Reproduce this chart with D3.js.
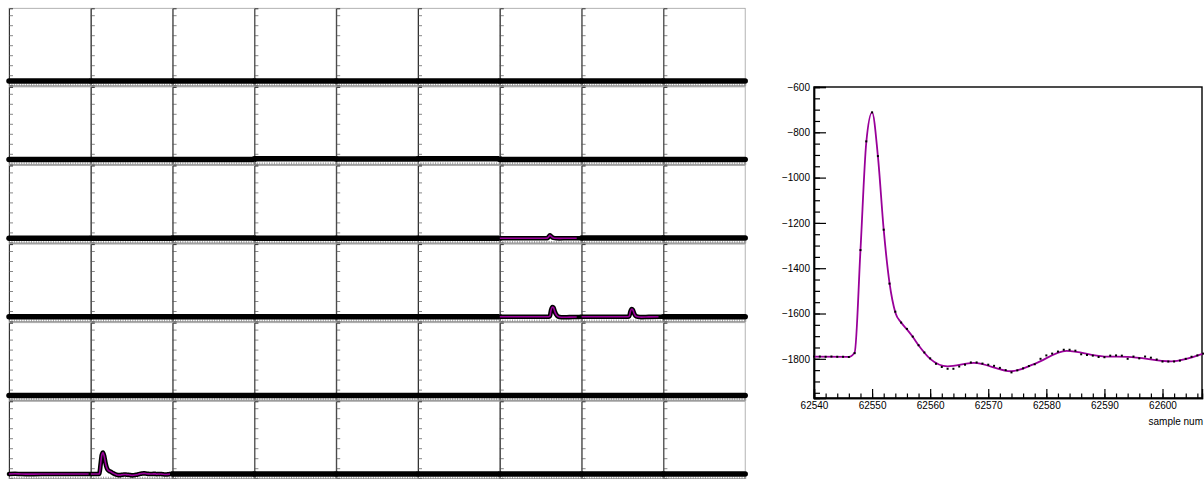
<!DOCTYPE html>
<html>
<head>
<meta charset="utf-8">
<script src="https://cdn.jsdelivr.net/npm/d3@7"></script>
<style>
  body { margin: 0; background: #fff; }
  svg { display: block; }
  text { font-family: "Liberation Sans", Arial, sans-serif; }
</style>
</head>
<body>
<div id="chart"></div>
<script>
// zoomed waveform shown on the right (also row 6, column 2 of the grid)
const firstSample = 62540;
const adc = [
  -1790, -1790, -1791, -1790, -1791, -1791, -1792, -1775, -1320, -840,
  -712, -905, -1230, -1468, -1592, -1640, -1668, -1702, -1740, -1772,
  -1798, -1822, -1836, -1844, -1844, -1834, -1826, -1816, -1816, -1821,
  -1826, -1831, -1840, -1850, -1860, -1851, -1842, -1832, -1824, -1800,
  -1785, -1777, -1768, -1760, -1760, -1764, -1780, -1783, -1786, -1792,
  -1793, -1786, -1785, -1786, -1800, -1790, -1798, -1790, -1795, -1803,
  -1812, -1812, -1812, -1808, -1800, -1791, -1785, -1777
];
// smooth fitted curve (purple) at its knots
const fitSamples = [62540, 62546, 62547, 62548, 62549, 62550, 62551, 62552, 62553, 62554,
  62555, 62556, 62557, 62558, 62560, 62563, 62567.5, 62574, 62578, 62583.5, 62590, 62594, 62601.5, 62607];
const fitValues = [-1790, -1791, -1772, -1320, -845, -712, -905, -1230, -1465, -1595,
  -1640, -1670, -1703, -1740, -1800, -1833, -1818, -1855, -1822, -1765, -1790, -1791, -1811, -1777];
const yTicksMajor = [-600, -800, -1000, -1200, -1400, -1600, -1800];
const xTicksMajor = [62540, 62550, 62560, 62570, 62580, 62590, 62600];

// grid of channels (rows) x time windows (columns)
const nRows = 6, nCols = 9;
const gridFirstSample = 62473;
const samplesPerPanel = 67;
const baselines = [
  [-1790, -1790, -1790, -1790, -1790, -1790, -1790, -1790, -1790],
  [-1790, -1790, -1790, -1745, -1765, -1750, -1790, -1790, -1790],
  [-1790, -1790, -1775, -1790, -1790, -1790, -1790, -1780, -1780],
  [-1790, -1790, -1790, -1790, -1790, -1790, -1790, -1790, -1790],
  [-1790, -1790, -1790, -1790, -1790, -1790, -1790, -1790, -1790],
  [-1790, -1790, -1790, -1790, -1790, -1790, -1790, -1790, -1790]
];

// pulses seen in single panels (samples, ADC values)
const r3c7Samples = [62875, 62912, 62914, 62915, 62916, 62917, 62918, 62919, 62921, 62924, 62930, 62938];
const r3c7Values  = [-1790, -1790, -1785, -1720, -1650, -1690, -1745, -1775, -1795, -1800, -1792, -1790];
const r4c7Samples = [62875, 62915, 62916, 62917, 62918, 62919, 62920, 62921, 62922, 62924, 62927, 62932, 62938];
const r4c7Values  = [-1790, -1790, -1760, -1450, -1300, -1330, -1520, -1660, -1740, -1800, -1815, -1805, -1800];
const r4c8Samples = [62942, 62980, 62981, 62982, 62983, 62984, 62985, 62986, 62988, 62991, 62997, 63005];
const r4c8Values  = [-1790, -1790, -1760, -1520, -1400, -1450, -1620, -1730, -1790, -1805, -1795, -1790];
const r6c1Samples = [62473, 62478, 62483, 62490, 62500, 62510, 62520, 62530, 62540];
const r6c1Values  = [-1790, -1780, -1792, -1795, -1790, -1788, -1792, -1790, -1790];

const pulses = [
  { row: 2, col: 6, s: r3c7Samples, v: r3c7Values },
  { row: 3, col: 6, s: r4c7Samples, v: r4c7Values },
  { row: 3, col: 7, s: r4c8Samples, v: r4c8Values },
  { row: 5, col: 0, s: r6c1Samples, v: r6c1Values },
  { row: 5, col: 1, s: adc.map((d, i) => firstSample + i), v: adc }
];

const W = 1204, H = 479;
const purple = "#990099";

const svg = d3.select("#chart").append("svg")
  .attr("width", W)
  .attr("height", H);

// ---------- left grid ----------
const grid = { left: 9, top: 8.3, colStep: 81.8, rowStep: 78.6, panelH: 77.4 };
const panelRange = [-2025, 1845];

const line = (x, y) => d3.line().x(d => x(d[0])).y(d => y(d[1])).curve(d3.curveMonotoneX);

for (let r = 0; r < nRows; r++) {
  for (let c = 0; c < nCols; c++) {
    const x0 = grid.left + c * grid.colStep;
    const y0 = grid.top + r * grid.rowStep;
    const y1 = y0 + grid.panelH;
    const start = gridFirstSample + c * samplesPerPanel;
    const end = start + samplesPerPanel;

    const x = d3.scaleLinear().domain([start, end]).range([x0, x0 + grid.colStep]);
    const y = d3.scaleLinear().domain(panelRange).range([y1, y0]);

    const g = svg.append("g");

    g.append("rect")
      .attr("x", x0).attr("y", y0)
      .attr("width", grid.colStep).attr("height", grid.panelH)
      .attr("fill", "none")
      .attr("stroke", "#a0a0a0")
      .attr("stroke-width", 0.8);

    // y axis, ticks pointing inside
    const ya = g.append("g").attr("transform", `translate(${x0},0)`);
    ya.call(d3.axisRight(y).tickValues(d3.range(-2000, 1846, 100)).tickSize(2).tickFormat(""));
    ya.call(d3.axisRight(y).tickValues(d3.range(-2000, 1846, 500)).tickSize(4).tickFormat(""));
    ya.selectAll("path").attr("stroke", "#333");
    ya.selectAll("line").attr("stroke", "#555").attr("stroke-width", 0.7);

    // x axis, ticks pointing up
    const xa = g.append("g").attr("transform", `translate(0,${y1})`);
    xa.call(d3.axisTop(x).tickValues(d3.range(start, end, 2)).tickSize(2).tickFormat(""));
    xa.selectAll("path").attr("stroke", "#999");
    xa.selectAll("line").attr("stroke", "#777").attr("stroke-width", 0.7);

    // trace
    const p = pulses.find(q => q.row === r && q.col === c);
    const base = baselines[r][c];
    if (p) {
      const pts = p.s.map((s, i) => [s, p.v[i]]);
      const last = pts[pts.length - 1];
      const full = last[0] < end ? pts.concat([[end, base]]) : pts;
      g.append("path")
        .attr("d", line(x, y)(full))
        .attr("fill", "none")
        .attr("stroke", "#000")
        .attr("stroke-width", 4.6)
        .attr("stroke-linecap", "round")
        .attr("stroke-linejoin", "round");
      g.append("path")
        .attr("d", line(x, y)(pts))
        .attr("fill", "none")
        .attr("stroke", purple)
        .attr("stroke-width", 1.6);
    } else {
      g.append("path")
        .attr("d", line(x, y)([[start, base], [end, base]]))
        .attr("fill", "none")
        .attr("stroke", "#000")
        .attr("stroke-width", 5.5)
        .attr("stroke-linecap", "round");
    }
  }
}

// ---------- right pad ----------
const pad = { left: 814, right: 1202, top: 87, bottom: 398 };
const xs = d3.scaleLinear().domain([62540, 62606.8]).range([pad.left, pad.right]);
const ys = d3.scaleLinear().domain([-1973, -600]).range([pad.bottom, pad.top]);

const rp = svg.append("g");

rp.append("rect")
  .attr("x", pad.left).attr("y", pad.top)
  .attr("width", pad.right - pad.left).attr("height", pad.bottom - pad.top)
  .attr("fill", "none")
  .attr("stroke", "#000")
  .attr("stroke-width", 1.4);

rp.append("g").attr("transform", `translate(${pad.left},0)`)
  .call(d3.axisLeft(ys).tickValues(d3.range(-600, -1973, -50)).tickSize(-6).tickFormat(""));
rp.append("g").attr("transform", `translate(${pad.left},0)`)
  .call(d3.axisLeft(ys).tickValues(yTicksMajor).tickSize(-12).tickPadding(4).tickFormat(d3.format("d")));
rp.append("g").attr("transform", `translate(0,${pad.bottom})`)
  .call(d3.axisBottom(xs).tickValues(d3.range(62540, 62607, 2)).tickSize(-4.5).tickFormat(""));
rp.append("g").attr("transform", `translate(0,${pad.bottom})`)
  .call(d3.axisBottom(xs).tickValues(xTicksMajor).tickSize(-9).tickPadding(4).tickFormat(d3.format("d")));

rp.selectAll(".domain").attr("stroke", "#000").attr("stroke-width", 1.4);
rp.selectAll(".tick line").attr("stroke", "#000").attr("stroke-width", 1.2);
rp.selectAll(".tick text").attr("font-size", 10).attr("fill", "#000")
  .attr("font-family", "'Liberation Sans', Arial, sans-serif");

// axis title, cut by the window edge in the original
rp.append("text")
  .attr("x", 1203)
  .attr("y", 425)
  .attr("text-anchor", "end")
  .attr("font-size", 10)
  .text("sample num");

const fit = fitSamples.map((s, i) => [s, fitValues[i]]);
rp.append("path")
  .attr("d", line(xs, ys)(fit))
  .attr("fill", "none")
  .attr("stroke", purple)
  .attr("stroke-width", 1.8);

const pts = adc.map((v, i) => [firstSample + i, v]);
rp.selectAll(".dot")
  .data(pts)
  .enter().append("rect")
  .attr("class", "dot")
  .attr("x", d => xs(d[0]) - 1)
  .attr("y", d => ys(d[1]) - 1)
  .attr("width", 2)
  .attr("height", 2)
  .attr("fill", "#000");
</script>
</body>
</html>
